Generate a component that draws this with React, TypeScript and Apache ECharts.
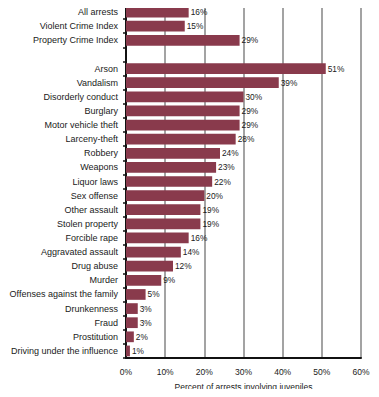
import React, { useEffect, useRef } from "react";
import * as echarts from "echarts";

const categories = [
  "All arrests",
  "Violent Crime Index",
  "Property Crime Index",
  "",
  "Arson",
  "Vandalism",
  "Disorderly conduct",
  "Burglary",
  "Motor vehicle theft",
  "Larceny-theft",
  "Robbery",
  "Weapons",
  "Liquor laws",
  "Sex offense",
  "Other assault",
  "Stolen property",
  "Forcible rape",
  "Aggravated assault",
  "Drug abuse",
  "Murder",
  "Offenses against the family",
  "Drunkenness",
  "Fraud",
  "Prostitution",
  "Driving under the influence",
];

const values: (number | null)[] = [
  16, 15, 29, null, 51, 39, 30, 29, 29, 28, 24, 23, 22, 20, 19, 19, 16, 14, 12, 9, 5, 3, 3, 2, 1,
];

const xTicks = [0, 10, 20, 30, 40, 50, 60];

const FONT = "'Liberation Sans', Arial, Helvetica, sans-serif";

export default function App() {
  const ref = useRef<HTMLDivElement>(null);
  useEffect(() => {
    if (!ref.current) return;
    const chart = echarts.init(ref.current, null, { renderer: "svg" });
    chart.setOption({
      animation: false,
      textStyle: { fontFamily: FONT },
      grid: { left: 126, right: 18, top: 5, bottom: 39, containLabel: false },
      xAxis: [
        {
          type: "value",
          min: xTicks[0],
          max: xTicks[xTicks.length - 1],
          interval: 10,
          position: "bottom",
          axisLine: { show: true, onZero: false, lineStyle: { color: "#111", width: 2 } },
          axisTick: { show: false },
          axisLabel: {
            formatter: (v: number) => v + "%",
            color: "#1a1a1a",
            fontSize: 8.5,
            fontFamily: FONT,
            margin: 9,
          },
          splitLine: { show: true, lineStyle: { color: "#a3a3a3", width: 2 } },
          name: "Percent of arrests involving juveniles",
          nameLocation: "middle",
          nameGap: 24,
          nameTextStyle: { color: "#1a1a1a", fontSize: 8.5, fontFamily: FONT },
        },
        {
          type: "value",
          min: 0,
          max: 60,
          interval: 10,
          position: "top",
          axisLine: { show: true, onZero: false, lineStyle: { color: "#111", width: 2 } },
          axisTick: { show: false },
          axisLabel: { show: false },
          splitLine: { show: false },
        },
      ],
      yAxis: {
        type: "category",
        data: categories,
        inverse: true,
        axisLine: { show: true, lineStyle: { color: "#111", width: 2 } },
        axisTick: { show: true, length: 3, lineStyle: { color: "#111", width: 1.5 } },
        axisLabel: {
          color: "#1a1a1a",
          fontSize: 9,
          fontFamily: FONT,
          margin: 8,
        },
      },
      series: [
        {
          type: "bar",
          data: values,
          xAxisIndex: 0,
          barCategoryGap: "24%",
          itemStyle: { color: "#893a4c" },
          label: {
            show: true,
            position: "right",
            distance: 2,
            formatter: (p: any) => (p.value == null ? "" : p.value + "%"),
            color: "#1a1a1a",
            fontSize: 8.3,
            fontFamily: FONT,
          },
        },
      ],
    });
    return () => chart.dispose();
  }, []);
  return <div ref={ref} style={{ width: 379, height: 397, margin: -8 }} />;
}
